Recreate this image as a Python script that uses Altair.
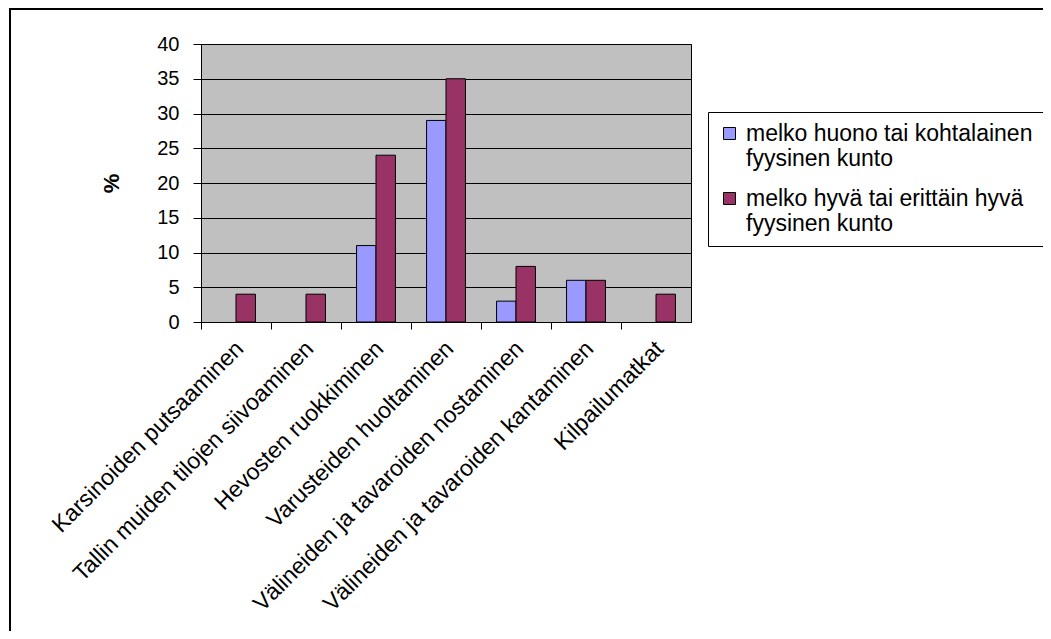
import altair as alt
import pandas as pd

categories = [
    "Karsinoiden putsaaminen",
    "Tallin muiden tilojen siivoaminen",
    "Hevosten ruokkiminen",
    "Varusteiden huoltaminen",
    "Välineiden ja tavaroiden nostaminen",
    "Välineiden ja tavaroiden kantaminen",
    "Kilpailumatkat",
]
series_names = [
    "melko huono tai kohtalainen fyysinen kunto",
    "melko hyvä tai erittäin hyvä fyysinen kunto",
]
values_poor = [0, 0, 11, 29, 3, 6, 0]
values_good = [4, 4, 24, 35, 8, 6, 4]
y_ticks = [0, 5, 10, 15, 20, 25, 30, 35, 40]
colors = ["#9999FF", "#993366"]

rows = []
for c, a, b in zip(categories, values_poor, values_good):
    rows.append({"cat": c, "series": series_names[0], "value": a})
    rows.append({"cat": c, "series": series_names[1], "value": b})
df = pd.DataFrame(rows)

label_expr = (
    "datum.label == '" + series_names[0] + "' ? ['melko huono tai kohtalainen', 'fyysinen kunto'] : "
    "['melko hyvä tai erittäin hyvä', 'fyysinen kunto']"
)

FONT = "Liberation Sans"
W, H = 490, 278

bars = alt.Chart(df).transform_filter("datum.value > 0").mark_bar(
    stroke="black", strokeWidth=1
).encode(
    x=alt.X(
        "cat:N",
        sort=categories,
        scale=alt.Scale(domain=categories, paddingInner=0, paddingOuter=0),
        axis=alt.Axis(
            title=None,
            labelAngle=-45,
            labelAlign="right",
            labelBaseline="top",
            labelFont=FONT,
            labelFontSize=23,
            labelColor="black",
            labelLimit=600,
            labelPadding=8,
            labelOffset=-4,
            bandPosition=0,
            ticks=True,
            tickColor="black",
            tickSize=7,
            domainColor="black",
            grid=False,
        ),
    ),
    xOffset=alt.XOffset("series:N", sort=series_names,
                        scale=alt.Scale(domain=series_names, paddingOuter=0.8, paddingInner=0)),
    y=alt.Y(
        "value:Q",
        scale=alt.Scale(domain=[0, 40]),
        axis=alt.Axis(
            title="%",
            titleFont=FONT,
            titleFontSize=22,
            titleFontWeight="bold",
            titleColor="black",
            titlePadding=33,
            titleAngle=-90,
            values=y_ticks,
            labelFont=FONT,
            labelFontSize=20,
            labelColor="black",
            labelPadding=14,
            tickColor="black",
            tickSize=8,
            domainColor="black",
            grid=True,
            gridColor="black",
            gridOpacity=1,
            gridWidth=1,
        ),
    ),
    color=alt.Color(
        "series:N",
        sort=series_names,
        scale=alt.Scale(domain=series_names, range=colors),
        legend=alt.Legend(
            title=None,
            orient="none",
            legendX=507,
            legendY=68,
            strokeColor="black",
            fillColor="white",
            padding=10,
            symbolType="square",
            symbolSize=144,
            symbolStrokeColor="black",
            symbolStrokeWidth=1,
            labelFont=FONT,
            labelFontSize=23,
            labelColor="black",
            labelLimit=600,
            labelOffset=5,
            labelExpr=label_expr,
            rowPadding=16,
        ),
    ),
)

frame_df = pd.DataFrame({"k": [0]})
frame = alt.Chart(frame_df).mark_rect(
    fill=None, stroke="black", strokeWidth=2, clip=False
).encode(
    x=alt.value(-191), x2=alt.value(900),
    y=alt.value(-35), y2=alt.value(700),
)

chart = alt.layer(frame, bars).properties(
    width=W, height=H,
    padding={"left": 193, "top": 36, "right": 1035 - 193 - W, "bottom": 623 - 36 - H},
    autosize=alt.AutoSizeParams(type="none"),
    background="white",
).configure_view(fill="#C0C0C0", stroke="black", strokeWidth=1)

chart.save("out.html", embed_options={"renderer": "svg", "actions": False})
